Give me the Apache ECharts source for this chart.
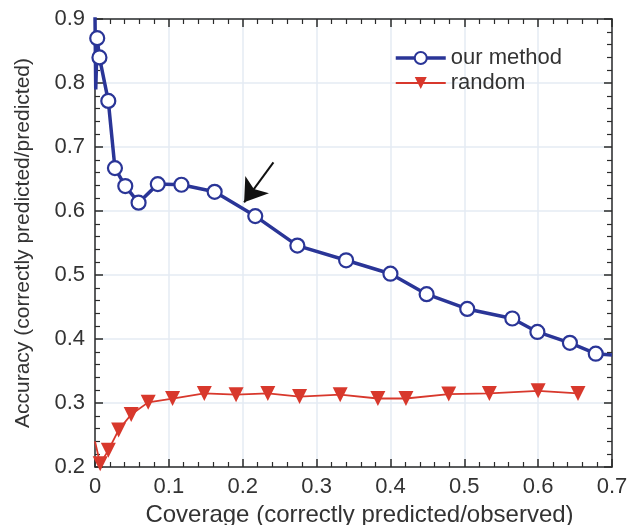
<!DOCTYPE html>
<html>
<head>
<meta charset="utf-8">
<script src="https://cdn.jsdelivr.net/npm/echarts@6/dist/echarts.min.js"></script>
<style>html,body{margin:0;padding:0;background:#fff;}#c{width:628px;height:525px;}</style>
</head>
<body>
<div id="c"></div>
<script>
// ---- data ----
var xTicks = [0, 0.1, 0.2, 0.3, 0.4, 0.5, 0.6, 0.7];
var yTicks = [0.2, 0.3, 0.4, 0.5, 0.6, 0.7, 0.8, 0.9];
var seriesNames = ['our method', 'random'];

// "our method": leading segment (no markers), marked points, trailing segment
var ourLeadX = [0, 0.001];
var ourLeadY = [0.905, 0.79];
var ourX = [0.003, 0.006, 0.018, 0.027, 0.041, 0.059, 0.085, 0.117, 0.162, 0.217, 0.274, 0.340, 0.400, 0.449, 0.504, 0.565, 0.599, 0.643, 0.678];
var ourY = [0.870, 0.840, 0.772, 0.667, 0.639, 0.613, 0.642, 0.641, 0.630, 0.592, 0.546, 0.523, 0.502, 0.470, 0.447, 0.432, 0.411, 0.394, 0.377];
var ourTailX = [0.70];
var ourTailY = [0.375];

// "random"
var randLeadX = [0];
var randLeadY = [0.24];
var randX = [0.007, 0.018, 0.032, 0.049, 0.072, 0.105, 0.148, 0.191, 0.234, 0.277, 0.332, 0.383, 0.421, 0.479, 0.534, 0.600, 0.654];
var randY = [0.205, 0.226, 0.258, 0.282, 0.301, 0.307, 0.315, 0.313, 0.315, 0.310, 0.313, 0.307, 0.307, 0.314, 0.315, 0.319, 0.315];

// arrow annotation (data coords): tail -> tip
var arrowFrom = [0.2416, 0.676];
var arrowTo = [0.2019, 0.6136];

function pts(xs, ys, hidden) {
  return xs.map(function (x, i) {
    var d = { value: [x, ys[i]] };
    if (hidden) d.symbol = 'none';
    return d;
  });
}

var blue = '#2a3597';
var red = '#d8382c';
var axisColor = '#2b2b2b';
var textColor = '#333333';
var font = 'Liberation Sans, Arial, Helvetica, sans-serif';

var chart = echarts.init(document.getElementById('c'), null, { renderer: 'canvas' });

function baseAxis(extra) {
  var a = {
    type: 'value',
    axisLine: { show: true, onZero: false, lineStyle: { color: axisColor, width: 1.5 } },
    axisTick: { show: true, inside: true, length: 8, lineStyle: { color: axisColor, width: 1.5 } },
    minorTick: { show: true, splitNumber: 5, length: 5, lineStyle: { color: axisColor, width: 1.2 } },
    splitLine: { show: false },
    minorSplitLine: { show: false }
  };
  for (var k in extra) a[k] = extra[k];
  return a;
}

var option = {
  backgroundColor: '#ffffff',
  animation: false,
  grid: { left: 95, right: 16, top: 19, bottom: 58, containLabel: false, outerBoundsMode: 'none' },
  legend: {
    data: [
      { name: seriesNames[0], lineStyle: { width: 3.5 } },
      { name: seriesNames[1], lineStyle: { width: 1.8 } }
    ],
    orient: 'vertical',
    left: 389,
    top: 42,
    itemWidth: 50,
    itemHeight: 15,
    itemGap: 3,
    textStyle: { fontSize: 22, color: textColor, fontFamily: font }
  },
  xAxis: [
    baseAxis({
      position: 'bottom',
      min: xTicks[0], max: xTicks[xTicks.length - 1], interval: 0.1,
      name: 'Coverage (correctly predicted/observed)',
      nameLocation: 'middle',
      nameGap: 29,
      nameTextStyle: { fontSize: 24, color: textColor, fontFamily: font, padding: [0, 0, 0, 12] },
      axisLabel: { show: true, fontSize: 22, color: textColor, fontFamily: font, margin: 9 },
      splitLine: { show: true, lineStyle: { color: '#e4ebf3', width: 1.5 } }
    }),
    baseAxis({
      position: 'top',
      min: xTicks[0], max: xTicks[xTicks.length - 1], interval: 0.1,
      axisLabel: { show: false }
    })
  ],
  yAxis: [
    baseAxis({
      position: 'left',
      min: yTicks[0], max: yTicks[yTicks.length - 1], interval: 0.1,
      name: 'Accuracy (correctly predicted/predicted)',
      nameLocation: 'middle',
      nameGap: 61,
      nameTextStyle: { fontSize: 21, color: textColor, fontFamily: font },
      axisLabel: { show: true, fontSize: 22, color: textColor, fontFamily: font, margin: 10 },
      splitLine: { show: true, lineStyle: { color: '#e4ebf3', width: 1.5 } }
    }),
    baseAxis({
      position: 'right',
      min: yTicks[0], max: yTicks[yTicks.length - 1], interval: 0.1,
      axisLabel: { show: false }
    })
  ],
  series: [
    {
      name: seriesNames[0],
      type: 'line',
      xAxisIndex: 0, yAxisIndex: 0,
      data: pts(ourLeadX, ourLeadY, true).concat(pts(ourX, ourY, false), pts(ourTailX, ourTailY, true)),
      showAllSymbol: true,
      symbol: 'circle',
      symbolSize: 14,
      lineStyle: { color: blue, width: 3.5 },
      itemStyle: { color: '#ffffff', borderColor: blue, borderWidth: 2.2 },
      z: 3,
      markLine: {
        silent: true,
        symbol: ['none', 'arrow'],
        symbolSize: 22,
        label: { show: false },
        lineStyle: { color: '#111111', width: 2, type: 'solid' },
        itemStyle: { color: '#111111' },
        emphasis: { disabled: true },
        data: [[{ coord: arrowFrom }, { coord: arrowTo }]]
      }
    },
    {
      name: seriesNames[1],
      type: 'line',
      xAxisIndex: 0, yAxisIndex: 0,
      data: pts(randLeadX, randLeadY, true).concat(pts(randX, randY, false)),
      showAllSymbol: true,
      symbol: 'triangle',
      symbolRotate: 180,
      symbolSize: 15,
      lineStyle: { color: red, width: 1.8 },
      itemStyle: { color: red },
      z: 2
    }
  ]
};
chart.setOption(option);
</script>
</body>
</html>
